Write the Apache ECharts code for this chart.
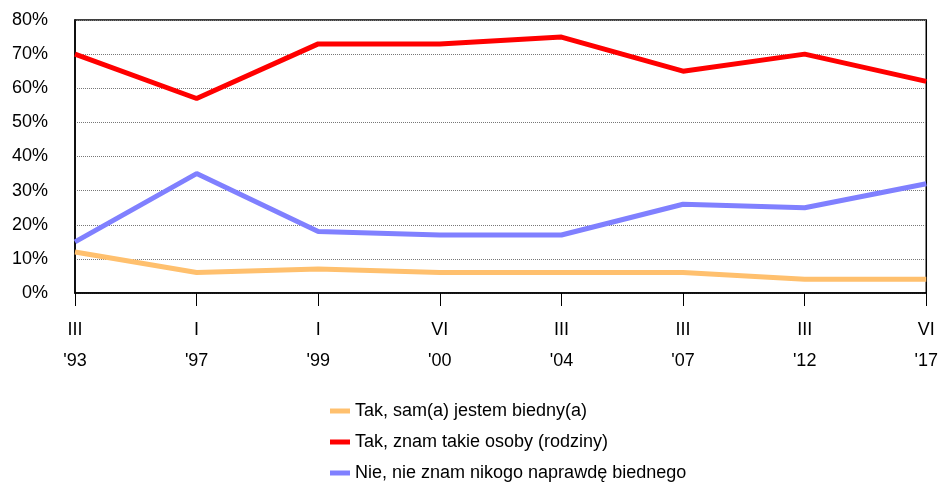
<!DOCTYPE html>
<html>
<head>
<meta charset="utf-8">
<script src="https://cdn.jsdelivr.net/npm/echarts@6/dist/echarts.min.js"></script>
<style>
  html, body { margin: 0; padding: 0; background: #fff; }
  #chart { width: 941px; height: 483px; }
</style>
</head>
<body>
<div id="chart"></div>
<script>
// kategorie (miesiąc rzymski + rok)
const months = ['III', 'I', 'I', 'VI', 'III', 'III', 'III', 'VI']
const years = ["'93", "'97", "'99", "'00", "'04", "'07", "'12", "'17"]
const categories = months.map((m, i) => m + '\n' + years[i])

const seriesNames = [
  'Tak, sam(a) jestem biedny(a)',
  'Tak, znam takie osoby (rodziny)',
  'Nie, nie znam nikogo naprawdę biednego'
]
const samBiedny = [12, 6, 7, 6, 6, 6, 4, 4]
const znamOsoby = [70, 57, 73, 73, 75, 65, 70, 62]
const nieZnam = [15, 35, 18, 17, 17, 26, 25, 32]
const colors = ['#ffc06e', '#ff0000', '#8080ff']

const font = 'Liberation Sans, Arial, sans-serif'
const chart = echarts.init(document.getElementById('chart'))

const makeLine = (name, data, color) => ({
  name,
  type: 'line',
  data,
  symbol: 'none',
  lineStyle: { width: 5, color },
  itemStyle: { color },
  animation: false
})

chart.setOption({
  animation: false,
  grid: {
    left: 75, right: 10, top: 20, bottom: 190,
    show: true, borderColor: '#000', borderWidth: 1.5
  },
  legend: {
    orient: 'vertical',
    left: 325,
    top: 397,
    height: 110,
    itemGap: 13,
    itemWidth: 20,
    itemHeight: 5,
    icon: 'rect',
    textStyle: { fontFamily: font, fontSize: 18, color: '#000' },
    data: seriesNames
  },
  xAxis: {
    type: 'category',
    data: categories,
    boundaryGap: false,
    axisLine: { lineStyle: { color: '#000', width: 1.5 } },
    axisTick: { show: true, length: 13, lineStyle: { color: '#000' } },
    axisLabel: {
      margin: 22,
      interval: 0,
      fontFamily: font,
      fontSize: 18,
      lineHeight: 31,
      color: '#000'
    },
    splitLine: { show: false }
  },
  yAxis: {
    type: 'value',
    min: 0,
    max: 80,
    interval: 10,
    axisLine: { show: true, lineStyle: { color: '#000', width: 1.5 } },
    axisTick: { show: false },
    axisLabel: {
      formatter: '{value}%',
      margin: 27,
      fontFamily: font,
      fontSize: 18,
      color: '#000'
    },
    splitLine: { lineStyle: { color: '#777', type: 'dotted', width: 1 } }
  },
  series: [
    makeLine(seriesNames[0], samBiedny, colors[0]),
    makeLine(seriesNames[1], znamOsoby, colors[1]),
    makeLine(seriesNames[2], nieZnam, colors[2])
  ]
})
</script>
</body>
</html>
